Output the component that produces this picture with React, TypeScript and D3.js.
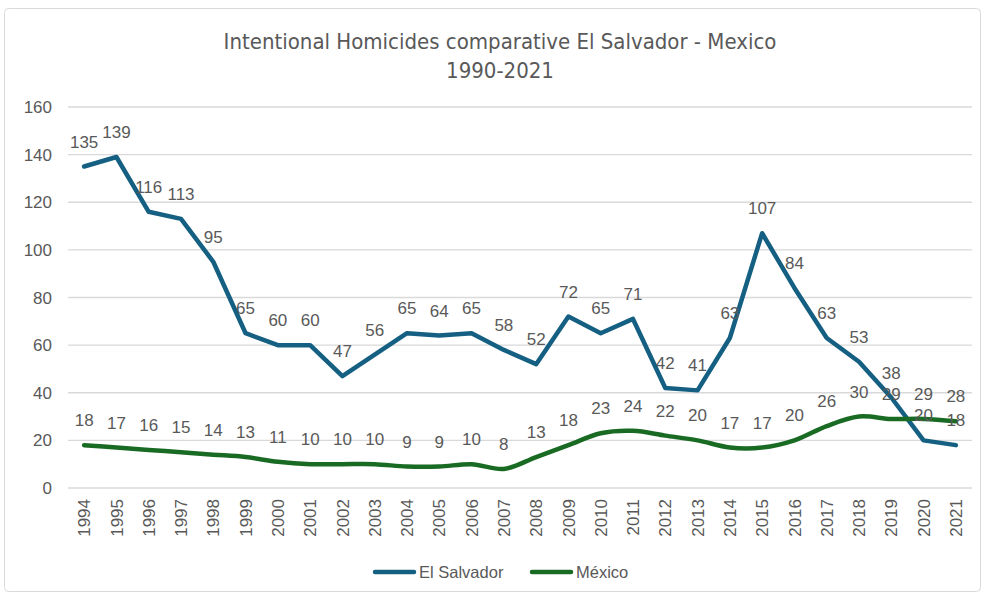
import React from "react";
import * as d3 from "d3";

const years = [
  "1994", "1995", "1996", "1997", "1998", "1999", "2000", "2001", "2002", "2003",
  "2004", "2005", "2006", "2007", "2008", "2009", "2010", "2011", "2012", "2013",
  "2014", "2015", "2016", "2017", "2018", "2019", "2020", "2021",
];
const elSalvador = [
  135, 139, 116, 113, 95, 65, 60, 60, 47, 56,
  65, 64, 65, 58, 52, 72, 65, 71, 42, 41,
  63, 107, 84, 63, 53, 38, 20, 18,
];
const mexico = [
  18, 17, 16, 15, 14, 13, 11, 10, 10, 10,
  9, 9, 10, 8, 13, 18, 23, 24, 22, 20,
  17, 17, 20, 26, 30, 29, 29, 28,
];
const yTicks = [0, 20, 40, 60, 80, 100, 120, 140, 160];
const titleLines = ["Intentional Homicides comparative El Salvador - Mexico", "1990-2021"];
const seriesNames = ["El Salvador", "México"];

const W = 985;
const H = 596;
const COL_ES = "#156082";
const COL_MX = "#196B24";
const TXT = "#595959";
const GRID = "#d9d9d9";
const FONT = "'Liberation Sans', Arial, sans-serif";
const TITLE_FONT = "'Liberation Sans Narrow', 'DejaVu Sans Condensed', Arial, sans-serif";

export default function App() {
  const x = d3.scaleBand<string>().domain(years).range([68, 972]).padding(0);
  const y = d3.scaleLinear().domain([0, 160]).range([488, 107]);
  const cx = (i: number) => (x(years[i]) as number) + x.bandwidth() / 2;

  const lineES = d3
    .line<number>()
    .x((_, i) => cx(i))
    .y((d) => y(d));
  const lineMX = d3
    .line<number>()
    .x((_, i) => cx(i))
    .y((d) => y(d))
    .curve(d3.curveCatmullRom.alpha(0.5));

  return (
    <div style={{ position: "fixed", left: 0, top: 0 }}>
      <svg width={W} height={H} style={{ display: "block", background: "#fff" }}>
        <rect x={4.5} y={8.5} width={976} height={583} rx={4} fill="#fff" stroke={GRID} strokeWidth={1} />
        {titleLines.map((t, i) => (
          <text
            key={t}
            x={500}
            y={49 + i * 29}
            textAnchor="middle"
            fontFamily={TITLE_FONT}
            fontSize={22}
            fill={TXT}
          >
            {t}
          </text>
        ))}
        {yTicks.map((t) => (
          <g key={t}>
            <line x1={68} x2={972} y1={y(t)} y2={y(t)} stroke={GRID} strokeWidth={1.3} />
            <text x={52} y={y(t)} dy="0.36em" textAnchor="end" fontFamily={FONT} fontSize={17} fill={TXT}>
              {t}
            </text>
          </g>
        ))}
        {years.map((yr, i) => (
          <text
            key={yr}
            transform={`translate(${cx(i)},${499}) rotate(-90)`}
            dy="0.36em"
            textAnchor="end"
            fontFamily={FONT}
            fontSize={17}
            fill={TXT}
          >
            {yr}
          </text>
        ))}
        <path d={lineES(elSalvador) || ""} fill="none" stroke={COL_ES} strokeWidth={4.5} strokeLinejoin="round" strokeLinecap="round" />
        <path d={lineMX(mexico) || ""} fill="none" stroke={COL_MX} strokeWidth={4.5} strokeLinejoin="round" strokeLinecap="round" />
        {elSalvador.map((v, i) => (
          <text key={"es" + i} x={cx(i)} y={y(v) - 19} textAnchor="middle" fontFamily={FONT} fontSize={17} fill={TXT}>
            {v}
          </text>
        ))}
        {mexico.map((v, i) => (
          <text key={"mx" + i} x={cx(i)} y={y(v) - 19} textAnchor="middle" fontFamily={FONT} fontSize={17} fill={TXT}>
            {v}
          </text>
        ))}
        <g>
          <line x1={375} x2={414} y1={572} y2={572} stroke={COL_ES} strokeWidth={4.5} strokeLinecap="round" />
          <text x={419} y={572} dy="0.36em" fontFamily={FONT} fontSize={16.5} fill={TXT}>
            {seriesNames[0]}
          </text>
          <line x1={532} x2={571} y1={572} y2={572} stroke={COL_MX} strokeWidth={4.5} strokeLinecap="round" />
          <text x={576} y={572} dy="0.36em" fontFamily={FONT} fontSize={16.5} fill={TXT}>
            {seriesNames[1]}
          </text>
        </g>
      </svg>
    </div>
  );
}
